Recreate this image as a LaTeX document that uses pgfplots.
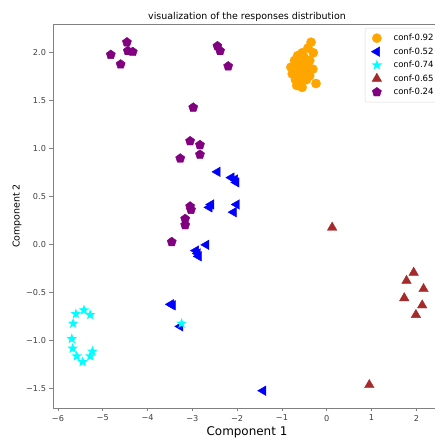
\documentclass[border=0pt]{standalone}
\usepackage{fontspec}
\setmainfont{DejaVu Sans}
\usepackage{pgfplots}
\pgfplotsset{compat=1.18}
\usetikzlibrary{plotmarks}

\definecolor{c92}{RGB}{255,165,0}
\definecolor{c52}{RGB}{0,0,255}
\definecolor{c74}{RGB}{0,255,255}
\definecolor{c65}{RGB}{165,42,42}
\definecolor{c24}{RGB}{128,0,128}
\definecolor{spine}{RGB}{128,128,128}

% filled five-point star, like matplotlib's '*'
\pgfdeclareplotmark{fstar}{%
  \pgfpathmoveto{\pgfpointpolar{90}{\pgfplotmarksize}}%
  \pgfpathlineto{\pgfpointpolar{126}{0.42\pgfplotmarksize}}%
  \pgfpathlineto{\pgfpointpolar{162}{\pgfplotmarksize}}%
  \pgfpathlineto{\pgfpointpolar{198}{0.42\pgfplotmarksize}}%
  \pgfpathlineto{\pgfpointpolar{234}{\pgfplotmarksize}}%
  \pgfpathlineto{\pgfpointpolar{270}{0.42\pgfplotmarksize}}%
  \pgfpathlineto{\pgfpointpolar{306}{\pgfplotmarksize}}%
  \pgfpathlineto{\pgfpointpolar{342}{0.42\pgfplotmarksize}}%
  \pgfpathlineto{\pgfpointpolar{18}{\pgfplotmarksize}}%
  \pgfpathlineto{\pgfpointpolar{54}{0.42\pgfplotmarksize}}%
  \pgfpathclose
  \pgfusepathqfill}

\begin{document}
\begin{tikzpicture}[trim left=-53bp, trim right=382bp]
\path (-53bp,-30bp) rectangle (382bp,408bp);
\begin{axis}[
    scale only axis,
    width=388bp, height=384bp,
    xmin=-6.11, xmax=2.55,
    ymin=-1.70, ymax=2.30,
    axis line style={spine, line width=0.8bp},
    tick style={spine, line width=0.8bp},
    major tick length=3.5bp,
    tick align=outside,
    xtick pos=bottom, ytick pos=left,
    xtick={-6,-5,-4,-3,-2,-1,0,1,2},
    xticklabels={−6,−5,−4,−3,−2,−1,0,1,2},
    ytick={-1.5,-1,-0.5,0,0.5,1,1.5,2},
    yticklabels={−1.5,−1.0,−0.5,0.0,0.5,1.0,1.5,2.0},
    tick label style={font=\fontsize{8.2}{10}\selectfont, text=black!75},
    every axis title shift=0pt,
    title={visualization of the responses distribution},
    title style={font=\fontsize{9.5}{11}\selectfont, inner sep=0pt, at={(axis description cs:0.5,1.011)}, anchor=base},
    xlabel={Component 1},
    xlabel style={font=\fontsize{12}{14}\selectfont, inner sep=0pt, at={(axis description cs:0.5,-0.0716)}, anchor=base},
    ylabel={Component 2},
    ylabel style={font=\fontsize{9.5}{11}\selectfont, inner sep=0pt, at={(axis description cs:-0.0928,0.5)}, anchor=center},
    legend style={at={(axis description cs:0.804,0.9896)}, anchor=north west,
        draw=black!15, rounded corners=2bp, fill=white, inner ysep=4bp,
        font=\fontsize{8.6}{10}\selectfont, row sep=1.5bp, cells={anchor=west}},
    legend image code/.code={\path (-8.5bp,0bp) (14.5bp,0bp);
        \draw[#1, only marks] plot coordinates {(0bp,0bp)};},
    only marks,
]
\addplot[color=c92, mark=*, mark size=4.6bp] coordinates {
(-0.35,2.11) (-0.42,2.05) (-0.30,2.00) (-0.55,2.00) (-0.65,1.97) (-0.50,1.95)
(-0.72,1.92) (-0.60,1.90) (-0.45,1.90) (-0.38,1.92) (-0.80,1.85) (-0.68,1.85)
(-0.55,1.83) (-0.42,1.85) (-0.31,1.83) (-0.77,1.78) (-0.62,1.78) (-0.50,1.77)
(-0.38,1.76) (-0.70,1.72) (-0.58,1.70) (-0.45,1.72) (-0.67,1.66) (-0.55,1.64)
(-0.24,1.68) (-0.74,1.80) (-0.48,1.80) (-0.60,1.95)
};
\addlegendentry{conf-0.92}
\addplot[color=c52, mark=triangle*, mark size=5.5bp, mark options={rotate=90}] coordinates {
(-2.44,0.76) (-2.13,0.70) (-2.05,0.68) (-2.02,0.65) (-2.58,0.42) (-2.62,0.39)
(-2.01,0.42) (-2.08,0.34) (-2.69,0.00) (-2.92,-0.06) (-2.86,-0.12) (-2.88,-0.09)
(-3.48,-0.62) (-3.44,-0.63) (-3.27,-0.85) (-1.42,-1.52)
};
\addlegendentry{conf-0.52}
\addplot[color=c74, mark=fstar, mark size=5.5bp] coordinates {
(-5.42,-0.68) (-5.28,-0.73) (-5.60,-0.72) (-5.66,-0.82) (-5.69,-0.98)
(-5.67,-1.08) (-5.58,-1.16) (-5.45,-1.22) (-5.28,-1.16) (-5.23,-1.11)
(-3.24,-0.82)
};
\addlegendentry{conf-0.74}
\addplot[color=c65, mark=triangle*, mark size=5.5bp] coordinates {
(0.12,0.18) (1.94,-0.29) (1.78,-0.375) (2.16,-0.46) (1.73,-0.555)
(2.13,-0.63) (1.99,-0.73) (0.95,-1.46)
};
\addlegendentry{conf-0.65}
\addplot[color=c24, mark=pentagon*, mark size=4.8bp] coordinates {
(-4.82,1.98) (-4.46,2.11) (-4.44,2.02) (-4.33,2.01) (-4.60,1.88)
(-2.44,2.07) (-2.38,2.02) (-2.20,1.86) (-2.98,1.43) (-3.05,1.08)
(-2.83,1.04) (-2.83,0.94) (-3.27,0.90) (-3.03,0.365) (-3.05,0.40)
(-3.16,0.27) (-3.16,0.205) (-3.46,0.03)
};
\addlegendentry{conf-0.24}
\end{axis}
\end{tikzpicture}
\end{document}
